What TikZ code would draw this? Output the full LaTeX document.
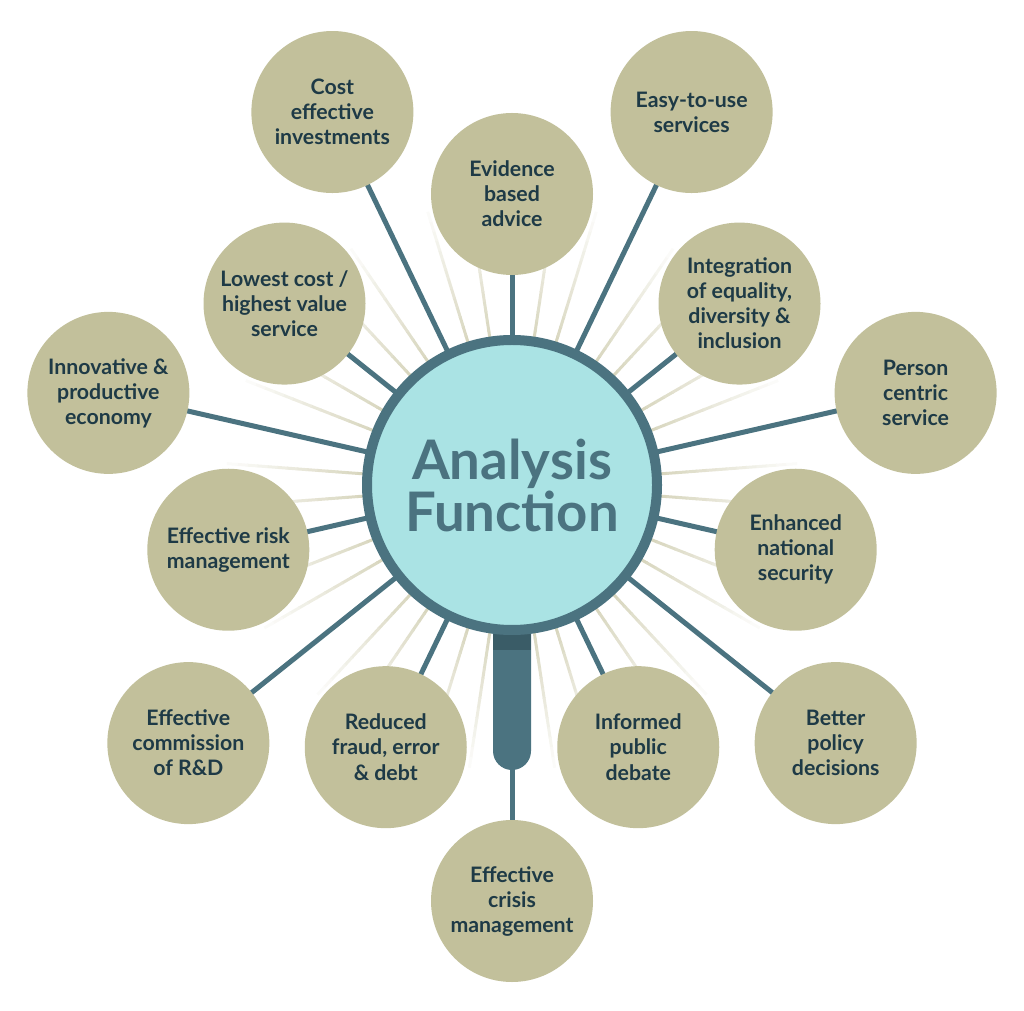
\documentclass[tikz,border=0pt]{standalone}
\usepackage{fontspec}
\setmainfont{Lato}
\definecolor{satfill}{HTML}{C2C09B}
\definecolor{conn}{HTML}{4B7380}
\definecolor{lens}{HTML}{AAE3E4}
\definecolor{txt}{HTML}{1E3A46}
\definecolor{raycol}{HTML}{D8D6BE}
\definecolor{band}{HTML}{3A5C67}
\pgfdeclarelayer{rays}
\pgfdeclarelayer{bg}
\pgfsetlayers{rays,bg,main}
\begin{document}
\begin{tikzpicture}[x=1pt,y=1pt,
  sat/.style={circle,fill=satfill,minimum size=162pt,inner sep=0pt,align=center,text=txt,
    font=\fontsize{21.3}{25}\selectfont\bfseries},
  connector/.style={draw=conn,line width=5pt},
  lensnode/.style={circle,draw=conn,line width=10pt,fill=lens,minimum size=290pt,inner sep=0pt,
    text=conn,align=center,font=\fontsize{54.5}{52}\selectfont\bfseries}]
\useasboundingbox (0,0) rectangle (1024,1010);
\coordinate (o) at (512,525);
% handle of the magnifier
\fill[conn] (493,380) -- (493,259) arc[start angle=180,end angle=360,radius=19] -- (531,380) -- cycle;
\fill[band] (493,380) rectangle (531,360);
% lens
\node[lensnode] (c) at (o) {Analysis\\Function};
% satellites
\node[sat] (s0)  at ([shift={(90:291)}]o) {Evidence\\based\\advice};
\node[sat] (s1)  at ([shift={(115.714:414)}]o) {Cost\\effective\\investments};
\node[sat] (s2)  at ([shift={(141.429:291)}]o) {Lowest cost /\\highest value\\service};
\node[sat] (s3)  at ([shift={(167.143:414)}]o) {Innovative \&\\productive\\economy};
\node[sat] (s4)  at ([shift={(192.857:291)}]o) {Effective risk\\management};
\node[sat] (s5)  at ([shift={(218.571:414)}]o) {Effective\\commission\\of R\&D};
\node[sat] (s6)  at ([shift={(244.286:291)}]o) {Reduced\\fraud, error\\\& debt};
\node[sat] (s7)  at ([shift={(270:416)}]o) {Effective\\crisis\\management};
\node[sat] (s8)  at ([shift={(295.714:291)}]o) {Informed\\public\\debate};
\node[sat] (s9)  at ([shift={(321.429:414)}]o) {Better\\policy\\decisions};
\node[sat] (s10) at ([shift={(347.143:291)}]o) {Enhanced\\national\\security};
\node[sat] (s11) at ([shift={(12.857:414)}]o) {Person\\centric\\service};
\node[sat] (s12) at ([shift={(38.571:291)}]o) {Integration\\of equality,\\diversity \&\\inclusion};
\node[sat] (s13) at ([shift={(64.286:414)}]o) {Easy-to-use\\services};
% connectors
\begin{pgfonlayer}{bg}
\foreach \k in {0,...,13} \draw[connector] (c.center) -- (s\k.center);
\end{pgfonlayer}
% faint rays
\begin{pgfonlayer}{rays}
\foreach \k in {0,...,13}{
  \foreach \j in {1,2}{
    \pgfmathsetmacro\a{90+\k*360/14+\j*360/42}
    \foreach \i in {0,...,13}{
      \pgfmathtruncatemacro\p{100-\i*7}
      \draw[line width=3pt,raycol!\p!white] ([shift={(\a:145+\i*10)}]o) -- ([shift={(\a:156+\i*10)}]o);
    }
  }
}
\end{pgfonlayer}
\end{tikzpicture}
\end{document}
